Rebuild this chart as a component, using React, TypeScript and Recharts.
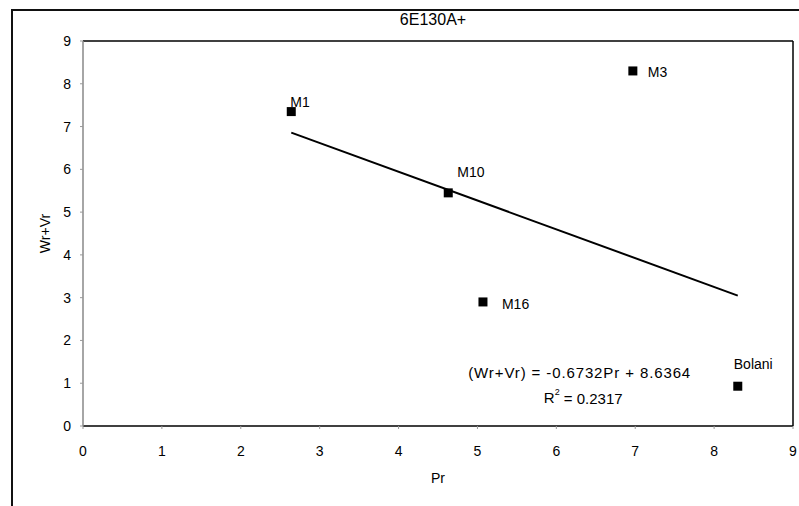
import React from 'react';
import {
  ComposedChart,
  Scatter,
  XAxis,
  YAxis,
  ReferenceLine,
  ReferenceDot,
  Label,
} from 'recharts';

// ---- data ----
const names = ['M1', 'M3', 'M10', 'M16', 'Bolani'];
const prValues = [2.64, 6.97, 4.63, 5.07, 8.3];
const wrVrValues = [7.35, 8.3, 5.45, 2.9, 0.93];
const xTicks = [0, 1, 2, 3, 4, 5, 6, 7, 8, 9];
const yTicks = [0, 1, 2, 3, 4, 5, 6, 7, 8, 9];
const trendSlope = -0.6732;
const trendIntercept = 8.6364;
const rSquared = 0.2317;
const chartTitle = '6E130A+';

const points = names.map((n, i) => ({ name: n, x: prValues[i], y: wrVrValues[i] }));
const xMin = Math.min(...prValues);
const xMax = Math.max(...prValues);
const trendSegment = [
  { x: xMin, y: trendSlope * xMin + trendIntercept },
  { x: xMax, y: trendSlope * xMax + trendIntercept },
];

const FONT = '"Liberation Sans", Arial, sans-serif';

// label placement relative to marker (style only)
const labelOffsets: Record<string, { dx: number; dy: number }> = {
  M1: { dx: -1, dy: -10 },
  M3: { dx: 15, dy: 1 },
  M10: { dx: 9, dy: -21 },
  M16: { dx: 19, dy: 2 },
  Bolani: { dx: -4, dy: -22 },
};

const SquareShape = (props: any) => {
  const { cx, cy, payload } = props;
  const off = labelOffsets[payload.name] || { dx: 8, dy: 0 };
  return (
    <g>
      <rect x={cx - 4.5} y={cy - 4.5} width={9} height={9} fill="#000" />
      <text
        x={cx + off.dx}
        y={cy + off.dy}
        dominantBaseline="central"
        fontSize={14}
        fontFamily={FONT}
        fill="#000"
      >
        {payload.name}
      </text>
    </g>
  );
};

const EquationLabel = (props: any) => {
  const vb = props.viewBox || {};
  const cx = (vb.x || 0) + (vb.width || 0) / 2;
  const cy = (vb.y || 0) + (vb.height || 0) / 2;
  const sign = trendIntercept >= 0 ? '+' : '-';
  return (
    <g fontFamily={FONT} fontSize={15} fill="#000">
      <text
        x={cx}
        y={cy}
        textAnchor="middle"
        dominantBaseline="central"
        textLength={222}
        lengthAdjust="spacing"
      >
        {`(Wr+Vr) = ${trendSlope}Pr ${sign} ${Math.abs(trendIntercept)}`}
      </text>
      <text x={cx + 4} y={cy + 25} textAnchor="middle" dominantBaseline="central">
        R
        <tspan fontSize={9} dy={-6}>2</tspan>
        <tspan dy={6}>{` = ${rSquared}`}</tspan>
      </text>
    </g>
  );
};

export default function App() {
  return (
    <div style={{ position: 'absolute', left: 0, top: 0, width: 799, height: 506, background: '#fff' }}>
      <div
        style={{
          position: 'absolute',
          left: 11,
          top: 9,
          width: 799 - 11,
          height: 506 - 9,
          borderLeft: '2px solid #111',
          borderTop: '2px solid #111',
          boxSizing: 'border-box',
        }}
      />
      <div style={{ position: 'absolute', left: 0, top: 0 }}>
        <ComposedChart
          width={799}
          height={506}
          margin={{ top: 41, right: 6, bottom: 55, left: 23 }}
          style={{ fontFamily: FONT }}
        >
          <XAxis
            type="number"
            dataKey="x"
            domain={[0, 9]}
            ticks={xTicks}
            interval={0}
            allowDataOverflow
            height={25}
            stroke="#000"
            axisLine={{ stroke: '#000', strokeWidth: 1.5 }}
            tickLine={{ stroke: '#999' }}
            tickSize={3}
            tickMargin={17}
            tick={{ fill: '#000', fontSize: 14, fontFamily: FONT }}
          >
            <Label
              value="Pr"
              position="bottom"
              offset={22}
              style={{ fill: '#000', fontSize: 14, fontFamily: FONT }}
            />
          </XAxis>
          <YAxis
            type="number"
            dataKey="y"
            domain={[0, 9]}
            ticks={yTicks}
            interval={0}
            allowDataOverflow
            width={60}
            axisLine={{ stroke: '#888', strokeWidth: 1.5 }}
            tickLine={{ stroke: '#999' }}
            tickSize={3}
            tickMargin={9}
            tick={{ fill: '#000', fontSize: 14, fontFamily: FONT }}
          >
            <Label
              value="Wr+Vr"
              angle={-90}
              position="center"
              dx={-8}
              style={{ fill: '#000', fontSize: 14, fontFamily: FONT }}
            />
          </YAxis>
          <ReferenceLine y={9} stroke="#000" strokeWidth={1.5}>
            <Label
              value={chartTitle}
              position="top"
              offset={16}
              dx={-5}
              style={{ fill: '#000', fontSize: 16, fontFamily: FONT }}
            />
          </ReferenceLine>
          <ReferenceLine x={9} stroke="#000" strokeWidth={1.5} />
          <ReferenceLine segment={trendSegment} stroke="#000" strokeWidth={2} />
          <ReferenceDot x={6.29} y={1.24} r={0} stroke="none" fill="none" label={EquationLabel} />
          <Scatter data={points} shape={SquareShape} isAnimationActive={false} />
        </ComposedChart>
      </div>
    </div>
  );
}
